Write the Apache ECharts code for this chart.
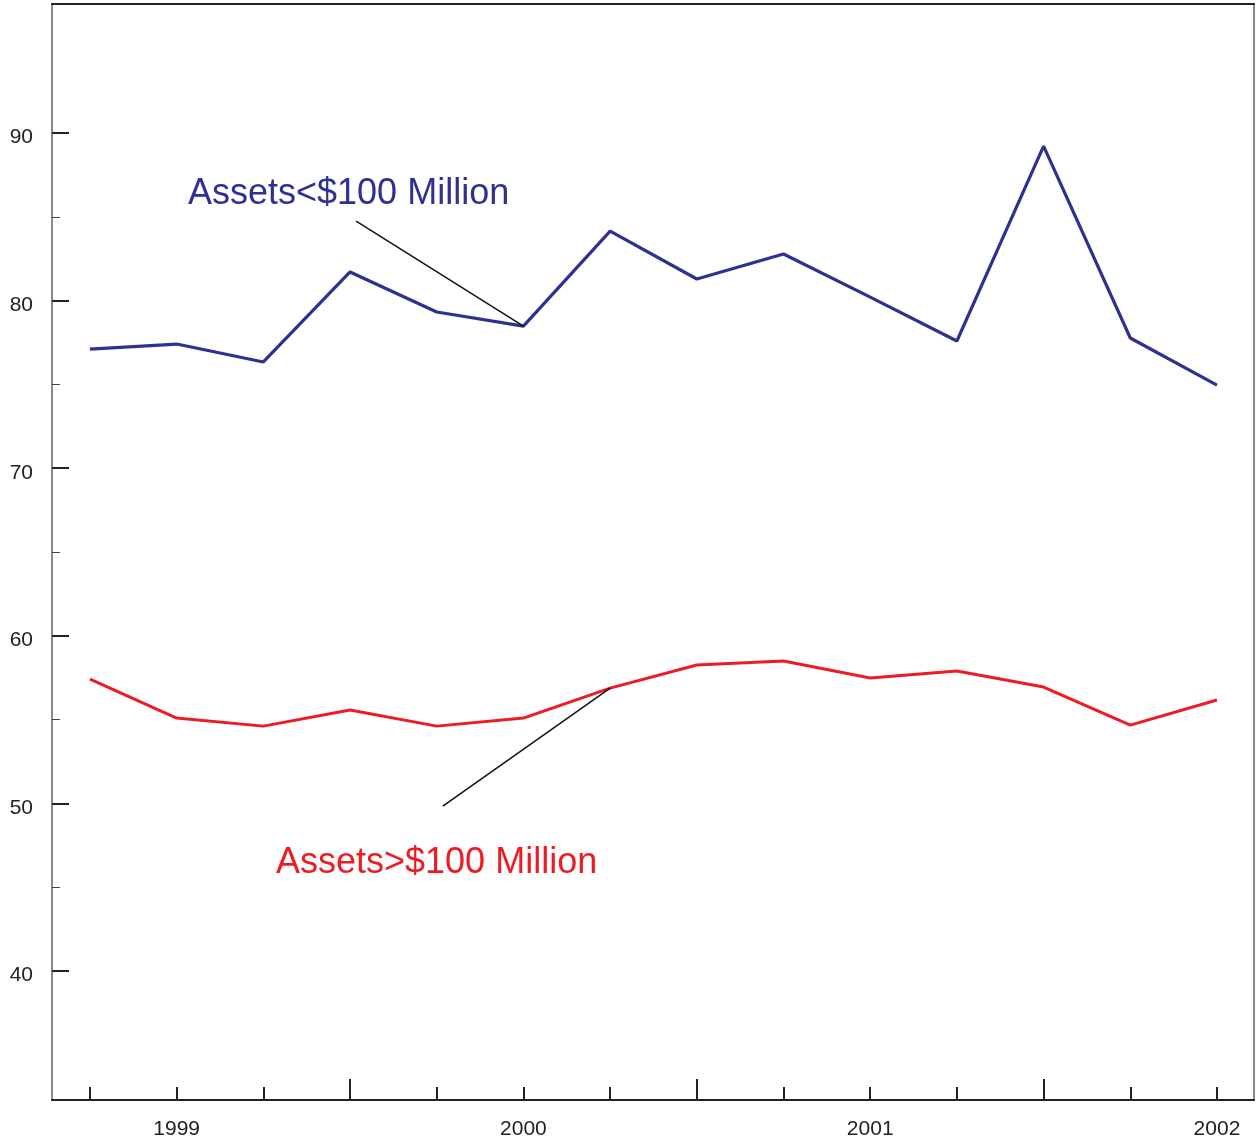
<!DOCTYPE html>
<html>
<head>
<meta charset="utf-8">
<style>
  html, body { margin: 0; padding: 0; background: #fff; }
  #chart { width: 1257px; height: 1142px; }
</style>
<script src="https://cdn.jsdelivr.net/npm/echarts@6/dist/echarts.min.js"></script>
</head>
<body>
<div id="chart"></div>
<script>
// 初始化
var myChart = echarts.init(document.getElementById('chart'), null, { renderer: 'canvas' });

// 季度 (1998Q4 - 2002Q1)
let quarters = [
	'1998Q4',
	'1999Q1', '1999Q2', '1999Q3', '1999Q4',
	'2000Q1', '2000Q2', '2000Q3', '2000Q4',
	'2001Q1', '2001Q2', '2001Q3', '2001Q4',
	'2002Q1'
];
// 资产小于1亿
let smallAssets = [
	77.11, 77.41, 76.34, 81.71, 79.32, 78.48, 84.15,
	81.29, 82.78, 80.21, 77.59, 89.22, 77.77, 74.96
];
// 资产大于1亿
let largeAssets = [
	57.42, 55.09, 54.61, 55.57, 54.61, 55.09, 56.88,
	58.26, 58.50, 57.48, 57.90, 56.94, 54.67, 56.17
];
// 刻度标签
let yLabels = [40, 50, 60, 70, 80, 90];
let yMinor = [45, 55, 65, 75, 85];
let xLabelIdx = [1, 5, 9, 13];
let xLongIdx = [3, 7, 11];

let font = '"Liberation Sans", Arial, Helvetica, sans-serif';
let blue = '#2e3192';
let red = '#ed1c24';
let xMin = -0.438, xMax = 13.427;
let yMin = 32.3, yMax = 97.7;

function toPairs(arr) {
	return arr.map(function (v, i) { return [i, v]; });
}

option = {
	animation: false,
	backgroundColor: '#fff',
	grid: { left: 52, top: 4, right: 3, bottom: 42 },
	xAxis: [
		{
			type: 'value', min: xMin, max: xMax,
			splitLine: { show: false },
			axisLine: { show: true, onZero: false, lineStyle: { color: '#222', width: 2 } },
			axisTick: {
				show: true, inside: true, length: 13,
				customValues: quarters.map(function (q, i) { return i; }),
				lineStyle: { color: '#222', width: 2 }
			},
			axisLabel: {
				show: true, margin: 19,
				customValues: xLabelIdx,
				formatter: function (v) { return quarters[v].slice(0, 4); },
				color: '#222', fontSize: 21, fontFamily: font
			}
		},
		{
			// 长刻度
			type: 'value', min: xMin, max: xMax, position: 'bottom',
			splitLine: { show: false },
			axisLine: { show: false, onZero: false },
			axisTick: {
				show: true, inside: true, length: 21,
				customValues: xLongIdx,
				lineStyle: { color: '#222', width: 2 }
			},
			axisLabel: { show: false }
		},
		{
			// 上边框
			type: 'value', min: xMin, max: xMax, position: 'top',
			splitLine: { show: false },
			axisLine: { show: true, onZero: false, lineStyle: { color: '#222', width: 2 } },
			axisTick: { show: false },
			axisLabel: { show: false }
		}
	],
	yAxis: [
		{
			type: 'value', min: yMin, max: yMax,
			splitLine: { show: false },
			axisLine: { show: true, onZero: false, lineStyle: { color: '#888', width: 2 } },
			axisTick: {
				show: true, inside: true, length: 17,
				customValues: yLabels,
				lineStyle: { color: '#222', width: 2 }
			},
			axisLabel: {
				show: true, margin: 19,
				customValues: yLabels,
				verticalAlign: 'top',
				lineHeight: 9,
				color: '#222', fontSize: 21, fontFamily: font
			}
		},
		{
			// 次刻度
			type: 'value', min: yMin, max: yMax, position: 'left',
			splitLine: { show: false },
			axisLine: { show: false, onZero: false },
			axisTick: {
				show: true, inside: true, length: 8,
				customValues: yMinor,
				lineStyle: { color: '#444', width: 1 }
			},
			axisLabel: { show: false }
		},
		{
			// 右边框
			type: 'value', min: yMin, max: yMax, position: 'right',
			splitLine: { show: false },
			axisLine: { show: true, onZero: false, lineStyle: { color: '#888', width: 2 } },
			axisTick: { show: false },
			axisLabel: { show: false }
		}
	],
	graphic: [
		{
			type: 'text', left: 188, top: 176,
			style: { text: 'Assets<$100 Million', fill: blue, font: '36px ' + font }
		},
		{
			type: 'text', left: 276, top: 845,
			style: { text: 'Assets>$100 Million', fill: red, font: '36px ' + font }
		}
	],
	series: [
		{
			name: 'Assets<$100 Million',
			type: 'line',
			data: toPairs(smallAssets),
			showSymbol: false,
			lineStyle: { color: blue, width: 3.2 },
			z: 3,
			markLine: {
				symbol: 'none', silent: true,
				label: { show: false },
				lineStyle: { color: '#111', width: 1.5, type: 'solid' },
				data: [[{ coord: [3.07, 84.75] }, { coord: [5, smallAssets[5]] }]]
			}
		},
		{
			name: 'Assets>$100 Million',
			type: 'line',
			data: toPairs(largeAssets),
			showSymbol: false,
			lineStyle: { color: red, width: 3 },
			z: 3,
			markLine: {
				symbol: 'none', silent: true,
				label: { show: false },
				lineStyle: { color: '#111', width: 1.5, type: 'solid' },
				data: [[{ coord: [4.07, 49.84] }, { coord: [6, largeAssets[6]] }]]
			}
		}
	]
};

myChart.setOption(option);
</script>
</body>
</html>
